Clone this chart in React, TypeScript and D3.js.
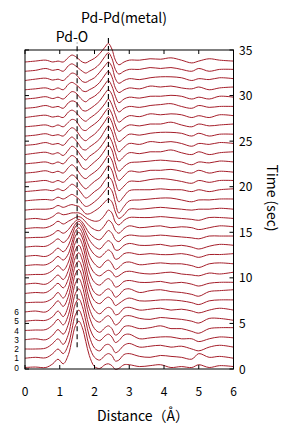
import React from "react";
import * as d3 from "d3";

// distance grid (Å) shared by every curve
const distances = [0, 0.3, 0.6, 0.8, 0.95, 1.1, 1.25, 1.35, 1.45, 1.55, 1.65, 1.75, 1.85, 2.0, 2.15, 2.3, 2.4, 2.5, 2.6, 2.7, 2.85, 3.0, 3.3, 3.6, 3.9, 4.2, 4.5, 4.8, 5.0, 5.3, 5.6, 6.0];

// curve offsets (in units of curve spacing), curve 0 = bottom
const c00 = [0, 0.05, 0.0, 0.4, 0.9, 0.4, 1.4, 3.0, 4.5, 5.0, 4.3, 2.8, 1.3, 0.1, -0.1, 0.3, 0.4, 0.2, -0.2, -0.1, 0.3, 0.3, 0.1, 0.2, 0.3, 0.0, 0.1, 0.0, 0.3, 0.0, 0.2, 0.1];
const c01 = [0, 0.1, 0.05, 0.5, 1.0, 0.5, 1.5, 3.1, 4.7, 5.2, 4.4, 2.9, 1.3, 0.1, -0.2, 0.3, 0.5, 0.3, -0.3, -0.2, 0.4, 0.5, 0.2, 0.1, 0.3, 0.2, 0.1, -0.1, 0.5, 0.1, 0.2, 0.0];
const c02 = [0, 0.0, 0.1, 0.6, 1.1, 0.5, 1.6, 3.3, 4.9, 5.4, 4.6, 3.0, 1.4, 0.1, -0.2, 0.4, 0.5, 0.2, -0.4, -0.2, 0.4, 0.6, 0.2, 0.3, 0.4, 0.2, 0.3, 0.0, -0.2, 0.2, 0.4, 0.2];
const c03 = [0, 0.1, 0.0, 0.5, 1.1, 0.6, 1.7, 3.4, 5.0, 5.5, 4.7, 3.0, 1.4, 0.2, -0.1, 0.4, 0.6, 0.3, -0.3, -0.1, 0.5, 0.6, 0.1, 0.2, 0.3, 0.3, 0.1, 0.1, -0.2, 0.1, 0.3, 0.2];
const c04 = [0, 0.05, 0.1, 0.6, 1.2, 0.6, 1.7, 3.4, 5.1, 5.6, 4.8, 3.1, 1.5, 0.2, -0.2, 0.3, 0.5, 0.2, -0.5, -0.3, 0.4, 0.5, 0.2, 0.3, 0.5, 0.2, 0.2, -0.1, -0.3, 0.2, 0.3, 0.3];
const c05 = [0, 0.1, 0.1, 0.5, 1.1, 0.5, 1.7, 3.4, 5.1, 5.6, 4.8, 3.1, 1.4, 0.2, -0.1, 0.4, 0.6, 0.2, -0.4, -0.2, 0.5, 0.6, 0.3, 0.2, 0.4, 0.3, 0.2, 0.0, -0.2, 0.3, 0.3, 0.1];
const c06 = [0, 0.1, 0.0, 0.6, 1.2, 0.6, 1.7, 3.4, 5.0, 5.5, 4.7, 3.0, 1.4, 0.2, -0.2, 0.3, 0.5, 0.3, -0.3, -0.2, 0.4, 0.5, 0.2, 0.3, 0.4, 0.2, 0.3, 0.1, -0.1, 0.2, 0.4, 0.2];
const c07 = [0, 0.05, 0.1, 0.5, 1.1, 0.5, 1.6, 3.3, 4.9, 5.4, 4.6, 3.0, 1.4, 0.2, -0.1, 0.4, 0.6, 0.3, -0.3, -0.1, 0.3, 0.5, 0.2, 0.2, 0.3, 0.3, 0.2, 0.0, -0.2, 0.2, 0.3, 0.3];
const c08 = [0, 0.1, 0.1, 0.6, 1.1, 0.6, 1.6, 3.2, 4.7, 5.2, 4.4, 2.9, 1.3, 0.1, -0.2, 0.3, 0.5, 0.2, -0.4, -0.2, 0.4, 0.5, 0.1, 0.3, 0.4, 0.2, 0.1, -0.1, -0.3, 0.2, 0.3, 0.4];
const c09 = [0, 0.1, 0.0, 0.5, 1.0, 0.5, 1.5, 3.0, 4.5, 5.0, 4.3, 2.8, 1.3, 0.2, -0.1, 0.4, 0.6, 0.3, -0.3, -0.2, 0.3, 0.4, 0.2, 0.2, 0.3, 0.1, 0.2, 0.0, -0.2, 0.1, 0.2, 0.2];
const c10 = [0, 0.05, 0.1, 0.5, 1.0, 0.5, 1.4, 2.8, 4.2, 4.6, 4.0, 2.6, 1.2, 0.2, -0.1, 0.3, 0.5, 0.3, -0.2, -0.1, 0.3, 0.4, 0.2, 0.1, 0.2, 0.3, 0.1, 0.0, -0.1, 0.2, 0.1, 0.3];
const c11 = [0, 0.1, 0.1, 0.5, 1.0, 0.6, 1.3, 2.5, 3.7, 4.1, 3.5, 2.3, 1.1, 0.2, -0.2, 0.4, 0.6, 0.2, -0.4, -0.2, 0.3, 0.4, 0.1, 0.2, 0.3, 0.2, 0.2, 0.0, -0.2, 0.2, 0.3, 0.2];
const c12 = [0, 0.1, 0.0, 0.4, 0.9, 0.5, 1.2, 2.2, 3.2, 3.5, 3.0, 2.0, 1.0, 0.2, -0.1, 0.4, 0.7, 0.4, -0.3, -0.2, 0.3, 0.4, 0.2, 0.3, 0.2, 0.2, 0.3, 0.1, -0.1, 0.2, 0.2, 0.3];
const c13 = [0, 0.1, 0.1, 0.5, 0.9, 0.5, 1.0, 1.8, 2.5, 2.8, 2.4, 1.6, 0.8, 0.1, -0.2, 0.4, 0.7, 0.4, -0.3, -0.3, 0.2, 0.4, 0.2, 0.2, 0.3, 0.1, 0.2, 0.0, -0.2, 0.1, 0.3, 0.2];
const c14 = [0, 0.05, 0.1, 0.4, 0.8, 0.5, 0.9, 1.4, 1.8, 2.0, 1.7, 1.1, 0.5, 0.0, -0.2, 0.4, 0.8, 0.5, -0.2, -0.4, 0.1, 0.3, 0.2, 0.2, 0.3, 0.2, 0.1, 0.0, -0.1, 0.2, 0.2, 0.2];
const c15 = [0, 0.1, 0.1, 0.4, 0.8, 0.5, 0.8, 1.0, 1.2, 1.3, 1.1, 0.7, 0.3, -0.1, -0.2, 0.4, 0.9, 0.6, -0.2, -0.5, 0.0, 0.3, 0.1, 0.2, 0.3, 0.1, 0.2, 0.1, -0.1, 0.1, 0.3, 0.2];
const c16 = [0, 0.1, 0.0, 0.3, 0.7, 0.5, 0.6, 0.7, 0.7, 0.7, 0.5, 0.2, 0.0, -0.2, -0.1, 0.5, 1.0, 0.7, -0.3, -0.6, -0.1, 0.2, 0.2, 0.2, 0.3, 0.2, 0.1, 0.0, -0.1, 0.2, 0.2, 0.1];
const c17 = [0, 0.1, 0.1, 0.2, 0.5, 0.3, 0.5, 0.6, 0.5, 0.4, 0.0, -0.4, -0.4, -0.1, 0.3, 0.9, 1.2, 0.9, -0.2, -0.9, -0.5, 0.1, 0.1, 0.2, 0.3, 0.2, 0.1, 0.0, 0.1, 0.1, 0.2, 0.1];
const c18 = [0, 0.1, 0.15, 0.1, 0.4, 0.2, 0.5, 0.7, 0.5, 0.2, -0.3, -0.6, -0.5, -0.1, 0.4, 1.1, 1.5, 1.1, -0.2, -1.3, -0.6, 0.0, 0.1, 0.2, 0.3, 0.3, 0.1, -0.1, 0.1, 0.1, 0.2, 0.2];
const c19 = [0, 0.1, 0.2, 0.1, 0.3, 0.1, 0.5, 0.8, 0.6, 0.2, -0.3, -0.7, -0.5, 0.0, 0.4, 1.2, 1.6, 1.2, -0.1, -1.1, -0.5, 0.1, 0.2, 0.2, 0.3, 0.2, 0.2, 0.0, 0.2, 0.0, 0.2, 0.3];
const c20 = [0, 0.1, 0.2, 0.0, 0.2, 0.0, 0.5, 0.8, 0.6, 0.1, -0.4, -0.7, -0.4, 0.1, 0.5, 1.3, 1.8, 1.3, 0.0, -0.9, -0.4, 0.1, 0.1, 0.3, 0.4, 0.3, 0.1, -0.1, 0.2, 0.0, 0.2, 0.2];
const c21 = [0, 0.1, 0.25, 0.05, 0.2, 0.0, 0.6, 0.9, 0.6, 0.1, -0.4, -0.6, -0.3, 0.1, 0.6, 1.4, 1.9, 1.4, 0.1, -0.8, -0.3, 0.2, 0.1, 0.3, 0.3, 0.4, 0.2, 0.0, 0.3, 0.0, 0.2, 0.1];
const c22 = [0, 0.1, 0.2, 0.0, 0.2, 0.0, 0.6, 0.9, 0.7, 0.2, -0.4, -0.6, -0.3, 0.2, 0.7, 1.5, 2.0, 1.5, 0.1, -0.8, -0.3, 0.1, 0.2, 0.3, 0.4, 0.3, 0.2, -0.1, 0.2, 0.1, 0.3, 0.2];
const c23 = [0, 0.15, 0.25, 0.05, 0.2, -0.1, 0.5, 0.9, 0.7, 0.2, -0.3, -0.6, -0.2, 0.2, 0.7, 1.5, 2.0, 1.4, 0.2, -0.7, -0.2, 0.2, 0.1, 0.3, 0.3, 0.5, 0.2, 0.0, 0.3, 0.0, 0.2, 0.3];
const c24 = [0, 0.1, 0.3, 0.1, 0.2, 0.0, 0.6, 0.9, 0.6, 0.1, -0.4, -0.5, -0.2, 0.2, 0.7, 1.6, 2.1, 1.5, 0.2, -0.7, -0.2, 0.2, 0.1, 0.4, 0.3, 0.4, 0.2, -0.1, 0.2, 0.1, 0.3, 0.2];
const c25 = [0, 0.1, 0.25, 0.05, 0.15, 0.0, 0.6, 0.9, 0.7, 0.2, -0.3, -0.5, -0.2, 0.2, 0.8, 1.6, 2.1, 1.5, 0.2, -0.6, -0.2, 0.2, 0.1, 0.3, 0.4, 0.4, 0.3, 0.0, 0.3, 0.0, 0.2, 0.2];
const c26 = [0, 0.1, 0.2, 0.0, 0.2, 0.0, 0.5, 0.8, 0.7, 0.2, -0.3, -0.4, -0.1, 0.3, 0.8, 1.6, 2.0, 1.4, 0.2, -0.5, -0.1, 0.2, 0.1, 0.3, 0.3, 0.5, 0.2, 0.0, 0.3, 0.1, 0.2, 0.3];
const c27 = [0, 0.15, 0.25, 0.05, 0.15, 0.0, 0.6, 0.8, 0.6, 0.2, -0.2, -0.4, -0.1, 0.3, 0.8, 1.5, 2.0, 1.4, 0.3, -0.5, -0.1, 0.2, 0.1, 0.4, 0.3, 0.4, 0.3, 0.0, 0.2, 0.0, 0.3, 0.2];
const c28 = [0, 0.1, 0.3, 0.1, 0.2, 0.0, 0.6, 0.8, 0.7, 0.3, -0.2, -0.3, -0.1, 0.3, 0.8, 1.6, 2.0, 1.5, 0.3, -0.4, 0.0, 0.2, 0.1, 0.3, 0.4, 0.5, 0.2, 0.0, 0.3, 0.1, 0.2, 0.2];
const c29 = [0, 0.1, 0.25, 0.05, 0.2, 0.0, 0.5, 0.8, 0.7, 0.3, -0.1, -0.3, 0.0, 0.3, 0.8, 1.6, 2.0, 1.4, 0.3, -0.4, 0.0, 0.2, 0.1, 0.3, 0.3, 0.4, 0.3, 0.0, 0.2, 0.0, 0.3, 0.2];
const c30 = [0, 0.1, 0.2, 0.0, 0.2, 0.0, 0.6, 0.8, 0.6, 0.3, -0.1, -0.2, 0.0, 0.3, 0.8, 1.6, 2.0, 1.4, 0.2, -0.3, 0.0, 0.2, 0.1, 0.4, 0.3, 0.4, 0.2, 0.1, 0.3, 0.0, 0.2, 0.3];
const c31 = [0, 0.15, 0.25, 0.05, 0.15, 0.0, 0.5, 0.8, 0.7, 0.3, -0.1, -0.2, 0.0, 0.3, 0.9, 1.6, 2.0, 1.5, 0.2, -0.3, 0.0, 0.2, 0.1, 0.3, 0.4, 0.4, 0.3, 0.0, 0.2, 0.1, 0.3, 0.2];
const c32 = [0, 0.1, 0.3, 0.1, 0.2, 0.0, 0.6, 0.8, 0.6, 0.3, 0.0, -0.2, 0.0, 0.3, 0.8, 1.6, 2.0, 1.4, 0.2, -0.3, 0.0, 0.2, 0.2, 0.4, 0.3, 0.4, 0.2, 0.0, 0.3, 0.0, 0.2, 0.2];
const c33 = [0, 0.1, 0.2, 0.0, 0.1, 0.0, 0.5, 0.75, 0.6, 0.3, 0.0, -0.1, 0.1, 0.4, 0.9, 1.6, 2.0, 1.4, 0.2, -0.3, 0.0, 0.2, 0.2, 0.35, 0.3, 0.45, 0.2, -0.1, 0.1, 0.35, 0.2, 0.1];

const curves = [c00, c01, c02, c03, c04, c05, c06, c07, c08, c09, c10, c11, c12, c13, c14, c15, c16,
  c17, c18, c19, c20, c21, c22, c23, c24, c25, c26, c27, c28, c29, c30, c31, c32, c33];

const xTicks = [0, 1, 2, 3, 4, 5, 6];
const timeTicks = [0, 5, 10, 15, 20, 25, 30, 35];
const indexLabels = [0, 1, 2, 3, 4, 5, 6];

// dashed guide lines: distance and time span
const guideDist = [1.5, 2.4];
const guideFrom = [2.4, 18.2];
const guideTo = [35.8, 36.6];

export default function App() {
  const W = 290, H = 428;
  const left = 25, right = 233.5, top = 50, bottom = 369;
  const x = d3.scaleLinear().domain([0, 6]).range([left, right]);
  const yT = d3.scaleLinear().domain([0, 35]).range([bottom, top]);
  const yC = d3.scaleLinear().domain([0, curves.length - 1]).range([367.5, 62]);
  const line = d3
    .line<[number, number]>()
    .x((d) => x(d[0]))
    .y((d) => d[1])
    .curve(d3.curveCatmullRom.alpha(0.5));
  const font = "'Noto Sans CJK JP', 'DejaVu Sans', sans-serif";
  const red = "#a51e2a";

  return (
    <svg
      width={W}
      height={H}
      style={{ position: "absolute", left: 0, top: 0, background: "#fff" }}
      fontFamily={font}
    >
      <rect x={0} y={0} width={W} height={H} fill="#fff" />
      {curves.map((vals, i) => (
        <path
          key={i}
          d={line(distances.map((d, k) => [d, yC(i + vals[k])]) as [number, number][]) || ""}
          fill="none"
          stroke={red}
          strokeWidth={1}
        />
      ))}
      <rect x={left} y={top} width={right - left} height={bottom - top} fill="none" stroke="#000" strokeWidth={1} />
      {xTicks.map((t) => (
        <g key={"x" + t}>
          <line x1={x(t)} x2={x(t)} y1={bottom} y2={bottom - 4} stroke="#000" />
          <line x1={x(t)} x2={x(t)} y1={top} y2={top + 4} stroke="#000" />
          <text x={x(t)} y={396} fontSize={12} textAnchor="middle" fill="#000">{t}</text>
        </g>
      ))}
      {timeTicks.map((t) => (
        <g key={"t" + t}>
          <line x1={right} x2={right - 4} y1={yT(t)} y2={yT(t)} stroke="#000" />
          <line x1={left} x2={left + 4} y1={yT(t)} y2={yT(t)} stroke="#000" />
          <text x={239} y={yT(t) + 4.5} fontSize={12} fill="#000">{t}</text>
        </g>
      ))}
      {indexLabels.map((t) => (
        <text
          key={"i" + t}
          x={16.5}
          y={yC(t) + 3.2}
          fontSize={8.3}
          fontFamily="'Liberation Sans', Arial, sans-serif"
          textAnchor="middle"
          fill="#000"
        >
          {t}
        </text>
      ))}
      {guideDist.map((d, k) => (
        <line
          key={"g" + k}
          x1={x(d)}
          x2={x(d)}
          y1={yT(guideFrom[k])}
          y2={yT(guideTo[k])}
          stroke="#000"
          strokeWidth={1.1}
          strokeDasharray="5,3"
        />
      ))}
      <text x={72} y={42} fontSize={14} textAnchor="middle" fill="#000">Pd-O</text>
      <text x={124} y={23} fontSize={14} textAnchor="middle" fill="#000">Pd-Pd(metal)</text>
      <text x={143} y={421} fontSize={14} textAnchor="middle" fill="#000">Distance（Å）</text>
      <text
        transform="translate(267,198) rotate(90)"
        fontSize={14}
        textAnchor="middle"
        fill="#000"
      >
        Time (sec)
      </text>
    </svg>
  );
}
